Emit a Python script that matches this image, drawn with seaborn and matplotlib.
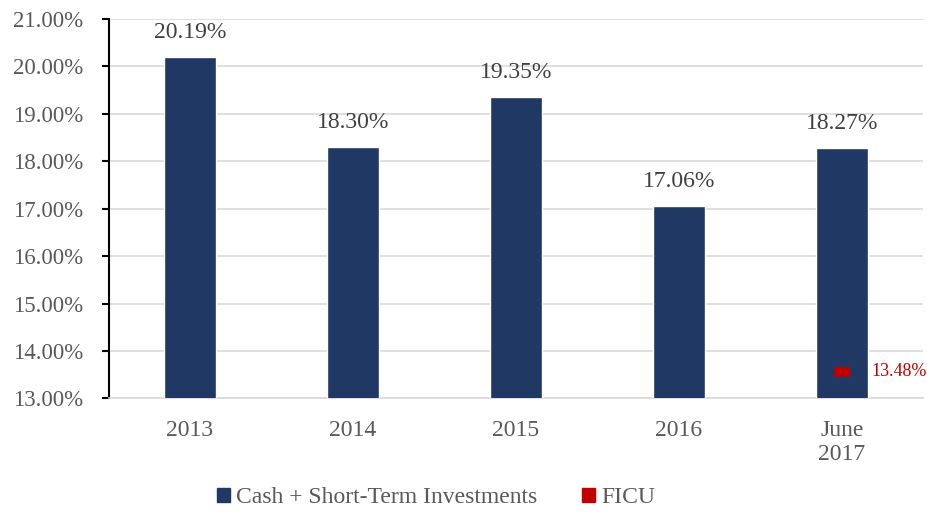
import matplotlib
matplotlib.use("Agg")
import matplotlib.pyplot as plt
import seaborn as sns
import pandas as pd

sns.set_style("white")
plt.rcParams['font.family'] = ['Liberation Serif', 'DejaVu Serif']

# chart data
periods = ["2013", "2014", "2015", "2016", "June\n2017"]
cash_sti = [20.19, 18.30, 19.35, 17.06, 18.27]
ficu_period = "June\n2017"
ficu_value = 13.48
y_ticks = [13, 14, 15, 16, 17, 18, 19, 20, 21]

navy = "#1F3864"
red = "#C00000"
grey_text = "#595959"

df = pd.DataFrame({"period": periods, "value": cash_sti})

fig, ax = plt.subplots(figsize=(9.28, 5.14), dpi=100)
fig.subplots_adjust(left=0.117, right=0.995, top=0.963, bottom=0.225)

sns.barplot(data=df, x="period", y="value", color=navy, width=0.32,
            saturation=1, ax=ax, zorder=3)
ax.set_ylim(13, 21)
ax.set_yticks(y_ticks)
ax.set_yticklabels([f"{t:.2f}%" for t in y_ticks])
ax.yaxis.grid(True, color="#d9d9d9", linewidth=1.2, zorder=0)
ax.set_axisbelow(True)
ax.set_xlabel("")
ax.set_ylabel("")

for i, v in enumerate(cash_sti):
    ax.text(i, v + 0.3, f"{v:.2f}%", ha="center", va="bottom",
            fontsize=17, color="#404040")

# FICU marker
fi = periods.index(ficu_period)
ax.plot([fi], [ficu_value + 0.08], marker="_", linestyle="none", color=red,
        markersize=12, markeredgewidth=7, zorder=4)
ax.text(fi + 0.18, ficu_value + 0.08, f"{ficu_value:.2f}%", ha="left",
        va="center", fontsize=13, color=red)
ax.set_xlim(-0.5, len(periods) - 0.5)

for s in ["top", "right"]:
    ax.spines[s].set_visible(False)
ax.spines["left"].set_color("black")
ax.spines["left"].set_linewidth(1.5)
ax.spines["bottom"].set_color("#d9d9d9")
ax.spines["bottom"].set_linewidth(1.2)
ax.tick_params(axis="y", which="both", left=True, length=5, width=1.5,
               color="black", labelsize=16.5, labelcolor=grey_text, pad=13)
ax.tick_params(axis="x", bottom=False, labelsize=17, labelcolor=grey_text, pad=12)

handles = [plt.Rectangle((0, 0), 1, 1, color=navy),
           plt.Rectangle((0, 0), 1, 1, color=red)]
fig.legend(handles, ["Cash + Short-Term Investments", "FICU"],
           loc="lower center", bbox_to_anchor=(0.47, -0.03), ncol=2,
           frameon=False, fontsize=17, labelcolor=grey_text,
           handlelength=0.55, handleheight=0.5, handletextpad=0.25,
           columnspacing=1.9)

fig.savefig("out.png", dpi=100)
